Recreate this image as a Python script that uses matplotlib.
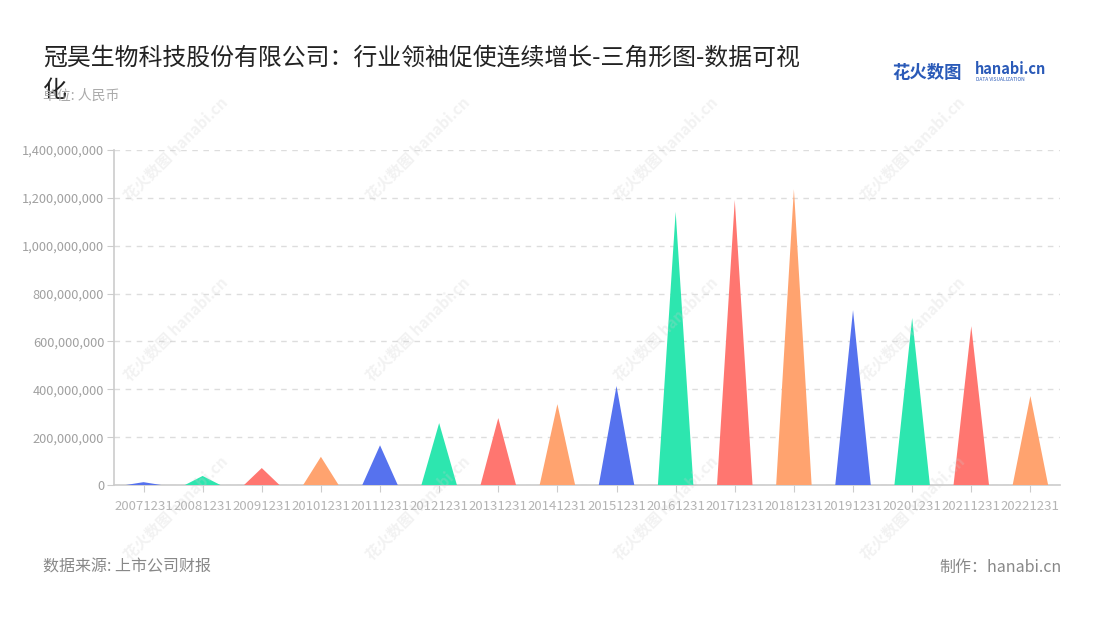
import numpy as np
import matplotlib.pyplot as plt
from matplotlib.ticker import FuncFormatter

plt.rcParams['font.family'] = ['Noto Sans CJK SC', 'DejaVu Sans']

# data
periods = ["20071231", "20081231", "20091231", "20101231", "20111231", "20121231",
           "20131231", "20141231", "20151231", "20161231", "20171231", "20181231",
           "20191231", "20201231", "20211231", "20221231"]
revenue = [12e6, 38e6, 71e6, 118e6, 166e6, 259e6, 280e6, 338e6, 414e6,
           1142e6, 1191e6, 1236e6, 731e6, 698e6, 664e6, 372e6]
palette = ["#5672EE", "#2DE6AF", "#FF7670", "#FFA36F"]

fig = plt.figure(figsize=(11, 6.2), dpi=100)
ax = fig.add_axes([0.1036, 0.2177, 0.86, 0.5403])

# triangles
half = 0.3
for i, v in enumerate(revenue):
    ax.fill([i - half, i, i + half], [0, v, 0], color=palette[i % 4], lw=0, zorder=3)

ax.set_xlim(-0.5, len(periods) - 0.5)
ax.set_ylim(0, 1.4e9)
ax.set_yticks(np.arange(0, 1.4e9 + 1, 2e8))
ax.yaxis.set_major_formatter(FuncFormatter(lambda v, p: f"{int(v):,}"))
ax.set_xticks(range(len(periods)))
ax.set_xticklabels(periods)

ax.grid(axis='y', color='#dddddd', linestyle=(0, (4, 4)), lw=1)
ax.set_axisbelow(True)
for s in ['top', 'right']:
    ax.spines[s].set_visible(False)
for s in ['left', 'bottom']:
    ax.spines[s].set_color('#cccccc')
    ax.spines[s].set_linewidth(1.2)
ax.tick_params(axis='y', colors='#cccccc', labelcolor='#a0a0a0', labelsize=9.2, length=5, pad=2)
ax.tick_params(axis='x', colors='#cccccc', labelcolor='#b4b4b4', labelsize=9.5, length=5, pad=6)

# faint watermarks
for wx in [0.16, 0.38, 0.605, 0.83]:
    for wy in [0.76, 0.47, 0.18]:
        fig.text(wx, wy, "花火数图 hanabi.cn", rotation=45, fontsize=11, color='#cccccc',
                 alpha=0.25, ha='center', va='center', zorder=10, fontweight='bold')

# titles
fig.text(0.039, 0.925, "冠昊生物科技股份有限公司：行业领袖促使连续增长-三角形图-数据可视\n化",
         fontsize=17.2, color='#222222', va='top', linespacing=1.55)
fig.text(0.039, 0.845, "单位: 人民币", fontsize=10, color='#aaaaaa', va='center')

# logo
fig.text(0.811, 0.883, "花火数图", fontsize=12.5, color='#2a5ab8', fontweight='bold', va='center')
fig.text(0.886, 0.889, "hanabi.cn", fontsize=10.5, color='#2a5ab8', fontweight='bold', va='center')
fig.text(0.887, 0.871, "DATA VISUALIZATION", fontsize=3.5, color='#2a5ab8', va='center')

# footer
fig.text(0.039, 0.085, "数据来源: 上市公司财报", fontsize=11.5, color='#888888', va='center')
fig.text(0.965, 0.085, "制作：hanabi.cn", fontsize=11.5, color='#888888', va='center', ha='right')

fig.savefig("out.png", dpi=100)
